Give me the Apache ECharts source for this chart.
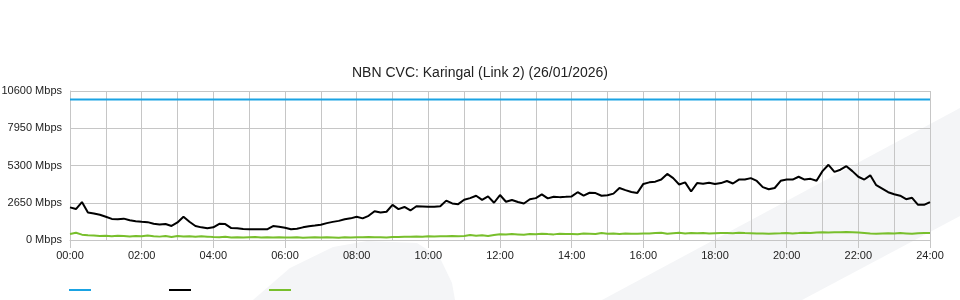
<!DOCTYPE html>
<html>
<head>
<meta charset="utf-8">
<script src="https://cdn.jsdelivr.net/npm/echarts@6/dist/echarts.min.js"></script>
<style>html,body{margin:0;padding:0;background:#fff}#c{width:960px;height:300px}</style>
</head>
<body>
<div id="c"></div>
<script>
var titleText = 'NBN CVC: Karingal (Link 2) (26/01/2026)';
var seriesNames = ['Capacity', 'Download', 'Upload'];
var yTicks = [0, 2650, 5300, 7950, 10600];

// 10-minute samples, 00:00 .. 24:00
var times = [];
for (var m = 0; m <= 1440; m += 10) {
  var h = Math.floor(m / 60), mm = m % 60;
  times.push((h < 10 ? '0' : '') + h + ':' + (mm < 10 ? '0' : '') + mm);
}

var capacity = [];
for (var k = 0; k < times.length; k++) capacity.push(10000);

var download = [
  2320,2200,2700,1950,1890,1800,1650,1500,1480,1520,1400,1340,
  1300,1270,1150,1100,1140,1000,1250,1650,1300,1000,900,840,
  900,1150,1135,850,830,780,760,760,760,760,990,950,
  870,760,800,900,980,1030,1090,1200,1290,1360,1480,1540,
  1650,1540,1720,2050,1950,2010,2500,2200,2350,2100,2400,2380,
  2360,2360,2400,2800,2600,2550,2860,2980,3150,2850,3100,2650,
  3200,2720,2850,2700,2600,2900,2980,3250,2960,3080,3050,3070,
  3100,3400,3150,3360,3340,3150,3180,3300,3700,3550,3420,3350,
  3990,4100,4150,4300,4700,4400,3950,4100,3450,4050,4000,4080,
  3990,4050,4200,4020,4300,4300,4400,4200,3760,3610,3700,4210,
  4300,4300,4500,4300,4350,4210,4900,5350,4850,5000,5250,4900,
  4500,4300,4600,3900,3650,3400,3250,3150,2900,3000,2500,2500,
  2700
];

var upload = [
  430,510,380,330,320,280,310,260,300,280,250,290,
  260,320,270,240,290,220,280,250,270,230,260,240,
  210,200,230,180,200,170,190,210,180,200,170,190,
  180,170,200,160,180,190,170,200,180,160,190,180,
  200,190,210,190,200,180,220,210,230,240,250,240,
  260,250,270,260,280,270,290,350,310,330,290,360,
  410,390,420,400,380,430,410,450,420,400,440,420,
  430,410,460,440,420,500,450,470,430,460,440,450,
  470,460,490,520,440,480,510,470,490,480,500,470,
  480,490,500,480,520,490,480,470,460,450,470,480,
  500,470,490,520,500,540,560,530,560,550,570,560,
  540,500,460,440,470,480,460,500,470,440,480,490,
  500
];

var colors = ['#1aa3e3', '#000000', '#78bf2c'];
var gridColor = '#c6c6c6';

var chart = echarts.init(document.getElementById('c'), null, {renderer: 'canvas'});
chart.setOption({
  animation: false,
  backgroundColor: '#ffffff',
  color: colors,
  graphic: [
    {type: 'polygon', z: -10, silent: true,
     shape: {points: [[602,300],[960,108],[960,216],[802,300]]},
     style: {fill: '#f4f5f7'}},
    {type: 'polygon', z: -10, silent: true,
     shape: {points: [[253,300],[290,268],[333,247],[367,241],[417,243],[440,258],[452,283],[455,300]]},
     style: {fill: '#f4f5f7'}}
  ],
  title: {
    text: titleText, left: 'center', top: 61,
    textStyle: {fontFamily: 'Liberation Sans', fontSize: 14, fontWeight: 'normal', color: '#222'}
  },
  legend: {
    left: 64, top: 284, icon: 'rect', itemWidth: 22, itemHeight: 2, itemGap: 78,
    formatter: function () { return ''; },
    data: seriesNames
  },
  grid: {left: 70, right: 30, top: 91, bottom: 60, containLabel: false, outerBoundsMode: 'none'},
  xAxis: {
    type: 'category', data: times, boundaryGap: false,
    axisLine: {show: true, lineStyle: {color: gridColor}},
    axisTick: {show: true, interval: 11, length: 8, lineStyle: {color: gridColor}},
    axisLabel: {interval: 11, margin: 10, fontFamily: 'Liberation Sans', fontSize: 11, color: '#222'},
    splitLine: {show: true, interval: 5, lineStyle: {color: gridColor}}
  },
  yAxis: {
    type: 'value', min: yTicks[0], max: yTicks[yTicks.length - 1], interval: 2650,
    axisLine: {show: true, lineStyle: {color: gridColor}},
    axisTick: {show: false},
    axisLabel: {margin: 8, fontFamily: 'Liberation Sans', fontSize: 11, color: '#222',
      formatter: function (v) { return v + ' Mbps'; }},
    splitLine: {show: true, lineStyle: {color: gridColor}}
  },
  series: [
    {name: seriesNames[0], type: 'line', data: capacity, showSymbol: false, lineStyle: {width: 2, color: colors[0]}, itemStyle: {color: colors[0]}},
    {name: seriesNames[1], type: 'line', data: download, showSymbol: false, lineStyle: {width: 2, color: colors[1]}, itemStyle: {color: colors[1]}},
    {name: seriesNames[2], type: 'line', data: upload, showSymbol: false, lineStyle: {width: 2, color: colors[2]}, itemStyle: {color: colors[2]}}
  ]
});
</script>
</body>
</html>
